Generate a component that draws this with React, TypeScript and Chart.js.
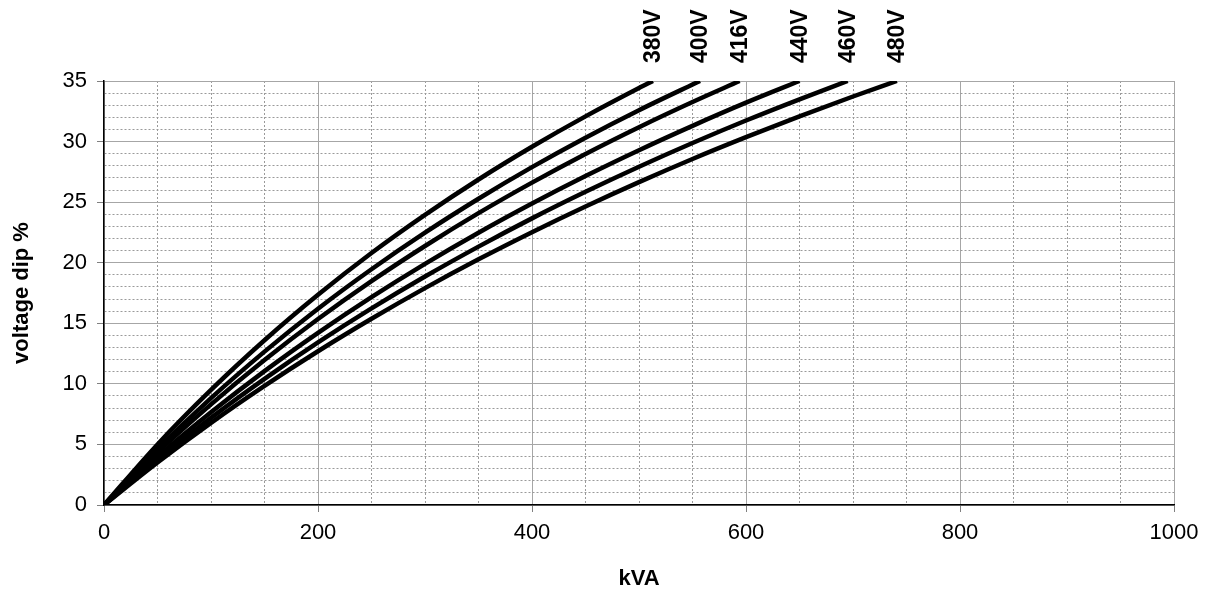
import React, { useEffect, useRef } from 'react';
import { Chart, registerables } from 'chart.js';

Chart.register(...registerables);

// Curve labels (supply voltage)
const voltageLabels = ['380V', '400V', '416V', '440V', '460V', '480V'];

// kVA sample points, with the end point where each curve meets 35 %
const kva380 = [0, 50, 100, 150, 200, 250, 300, 350, 400, 450, 500, 513];
const dip380 = [0, 5.0, 9.5, 13.6, 17.35, 20.8, 23.95, 26.87, 29.57, 32.08, 34.42, 35];

const kva400 = [0, 50, 100, 150, 200, 250, 300, 350, 400, 450, 500, 557];
const dip400 = [0, 4.61, 8.82, 12.66, 16.2, 19.46, 22.48, 25.28, 27.89, 30.32, 32.59, 35];

const kva416 = [0, 50, 100, 150, 200, 250, 300, 350, 400, 450, 500, 550, 594];
const dip416 = [0, 4.34, 8.31, 11.97, 15.35, 18.48, 21.38, 24.09, 26.61, 28.98, 31.19, 33.27, 35];

const kva440 = [0, 50, 100, 150, 200, 250, 300, 350, 400, 450, 500, 550, 600, 650];
const dip440 = [0, 3.98, 7.65, 11.05, 14.21, 17.16, 19.91, 22.48, 24.89, 27.16, 29.29, 31.3, 33.21, 35];

const kva460 = [0, 50, 100, 150, 200, 250, 300, 350, 400, 450, 500, 550, 600, 650, 695];
const dip460 = [0, 3.73, 7.19, 10.41, 13.42, 16.23, 18.86, 21.33, 23.66, 25.85, 27.92, 29.88, 31.74, 33.49, 35];

const kva480 = [0, 50, 100, 150, 200, 250, 300, 350, 400, 450, 500, 550, 600, 650, 700, 741];
const dip480 = [0, 3.51, 6.78, 9.83, 12.69, 15.37, 17.9, 20.28, 22.52, 24.64, 26.65, 28.56, 30.36, 32.08, 33.72, 35];

const seriesKva = [kva380, kva400, kva416, kva440, kva460, kva480];
const seriesDip = [dip380, dip400, dip416, dip440, dip460, dip480];

// Axis settings
const xMin = 0;
const xMax = 1000;
const xMajorStep = 200;
const xMinorStep = 50;
const yMin = 0;
const yMax = 35;
const yMajorStep = 5;
const yMinorStep = 1;

const xTitle = 'kVA';
const yTitle = 'voltage dip %';

const FONT = '"Liberation Sans", Arial, Helvetica, sans-serif';

const endLabelPlugin = {
  id: 'endLabels',
  afterDatasetsDraw(chart: any) {
    const ctx = chart.ctx;
    const xs = chart.scales.x;
    chart.data.datasets.forEach((ds: any) => {
      const last = ds.data[ds.data.length - 1];
      const px = xs.getPixelForValue(last.x);
      ctx.save();
      ctx.translate(px, chart.chartArea.top - 18);
      ctx.rotate(-Math.PI / 2);
      ctx.font = 'bold 23px ' + FONT;
      ctx.fillStyle = '#000';
      ctx.textAlign = 'left';
      ctx.textBaseline = 'middle';
      ctx.fillText(ds.label, 0, 1);
      ctx.restore();
    });
  },
};

const isMajor = (v: number, step: number) => Math.abs(v / step - Math.round(v / step)) < 1e-6;

export default function App() {
  const canvasRef = useRef<HTMLCanvasElement | null>(null);

  useEffect(() => {
    if (!canvasRef.current) return;
    const datasets = voltageLabels.map((label, i) => ({
      label,
      data: seriesKva[i].map((x, j) => ({ x, y: seriesDip[i][j] })),
      borderColor: '#000',
      borderWidth: 4.5,
      pointRadius: 0,
      fill: false,
      cubicInterpolationMode: 'monotone' as const,
    }));

    const chart = new Chart(canvasRef.current, {
      type: 'line',
      data: { datasets },
      plugins: [endLabelPlugin],
      options: {
        animation: false,
        responsive: true,
        maintainAspectRatio: false,
        layout: { padding: { top: 81, right: 45, left: 0, bottom: 0 } },
        plugins: {
          legend: { display: false },
          tooltip: { enabled: false },
        },
        scales: {
          x: {
            type: 'linear',
            min: xMin,
            max: xMax,
            afterFit: (s: any) => {
              s.height = 87;
            },
            ticks: {
              stepSize: xMinorStep,
              autoSkip: false,
              maxRotation: 0,
              padding: 8,
              color: '#000',
              font: { family: FONT, size: 22 },
              callback: (v: any) => (isMajor(Number(v), xMajorStep) ? String(v) : ''),
            },
            grid: {
              color: (c: any) => (isMajor(c.tick.value, xMajorStep) ? '#a6a6a6' : '#9a9a9a'),
              lineWidth: 1,
              tickLength: 7,
              tickColor: (c: any) => (isMajor(c.tick.value, xMajorStep) ? '#808080' : 'rgba(0,0,0,0)'),
            },
            border: {
              color: '#000',
              width: 1.5,
              dash: (c: any) => (c.tick && isMajor(c.tick.value, xMajorStep) ? [] : [2, 2]),
            },
            title: {
              display: true,
              text: xTitle,
              color: '#000',
              font: { family: FONT, size: 22, weight: 'bold' },
              padding: { top: 0, bottom: 0 },
            },
          },
          y: {
            type: 'linear',
            min: yMin,
            max: yMax,
            afterFit: (s: any) => {
              s.width = 104;
            },
            ticks: {
              stepSize: yMinorStep,
              autoSkip: false,
              padding: 10,
              color: '#000',
              font: { family: FONT, size: 22 },
              callback: (v: any) => (isMajor(Number(v), yMajorStep) ? String(v) : ''),
            },
            grid: {
              color: (c: any) => (isMajor(c.tick.value, yMajorStep) ? '#a6a6a6' : '#9a9a9a'),
              lineWidth: 1,
              tickLength: 7,
              tickColor: (c: any) => (isMajor(c.tick.value, yMajorStep) ? '#808080' : 'rgba(0,0,0,0)'),
            },
            border: {
              color: '#000',
              width: 1.5,
              dash: (c: any) => (c.tick && isMajor(c.tick.value, yMajorStep) ? [] : [2, 2]),
            },
            title: {
              display: true,
              text: yTitle,
              color: '#000',
              font: { family: FONT, size: 22, weight: 'bold' },
              padding: { top: 9, bottom: 0 },
            },
          },
        },
      },
    });
    return () => chart.destroy();
  }, []);

  return (
    <div style={{ position: 'absolute', left: 0, top: 0, width: 1219, height: 592 }}>
      <canvas ref={canvasRef} />
    </div>
  );
}
